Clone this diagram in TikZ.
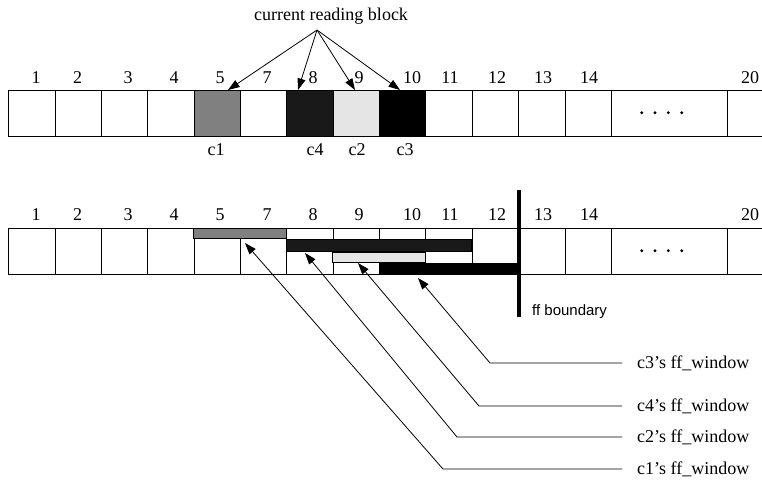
\documentclass[tikz,border=0pt]{standalone}
\usepackage{fontspec}
\setmainfont{Liberation Serif}
\setsansfont{Liberation Sans}
\usetikzlibrary{arrows.meta}
\definecolor{cone}{gray}{0.5}
\definecolor{cfour}{gray}{0.1}
\definecolor{ctwo}{gray}{0.9}
\tikzset{
  cell/.style={draw, line width=0.9pt, minimum width=46.35pt, minimum height=46pt,
               inner sep=0pt, anchor=north west},
  num/.style={font=\fontsize{18}{20}\selectfont, anchor=base, inner sep=0pt},
  lab/.style={font=\fontsize{18}{20}\selectfont, inner sep=0pt},
  bar/.style={draw, line width=0.8pt},
  ptr/.style={line width=0.8pt, -{Triangle[length=11.5pt,width=8pt]}},
}
\begin{document}
\begin{tikzpicture}[x=1pt,y=-1pt]
\useasboundingbox (0,0) rectangle (762,487);
\clip (0,0) rectangle (762,487);

% ---------- upper row: blocks being read ----------
\foreach \k/\lab/\col in {0/1/white,1/2/white,2/3/white,3/4/white,4/5/cone,
    5/7/white,6/8/cfour,7/9/ctwo,8/10/black,9/11/white,10/12/white,
    11/13/white,12/14/white}
  \node[cell, fill=\col] (top\lab) at ({8.3+46.35*\k},90) {};
\node[cell, minimum width=115.85pt] (topdots) at (610.85,90) {};
\node[cell] (top20) at (726.7,90) {};

\foreach \x/\lab in {36/1,77.5/2,128/3,174/4,220/5,267/7,313/8,359/9,
    412/10,450/11,497/12,543/13,589/14,750/20}
  \node[num] (ntop\lab) at (\x,83) {\lab};

\foreach \x/\c in {216/1,315/4,357/2,405/3}
  \node[num] (cname\c) at (\x,155) {c\c};

% ---------- lower row: fast-forward windows ----------
\foreach \k/\lab in {0/1,1/2,2/3,3/4,4/5,5/7,6/8,7/9,8/10,9/11,10/12,11/13,12/14}
  \node[cell] (bot\lab) at ({8.3+46.35*\k},228) {};
\node[cell, minimum width=115.85pt] (botdots) at (610.85,228) {};
\node[cell] (bot20) at (726.7,228) {};

\foreach \x/\lab in {36/1,77.5/2,128/3,174/4,220/5,267/7,313/8,359/9,
    412/10,450/11,497/12,543/13,589/14,750/20}
  \node[num] (nbot\lab) at (\x,220) {\lab};

% "...." in the gap cells
\foreach \x in {641.7,655,668.3,681.7} {
  \fill (\x,112.7) circle (1.6pt);
  \fill (\x,250.7) circle (1.6pt);
}

% window bars
\draw[bar, fill=cone]  (193.7,228) rectangle (286.4,238);
\draw[bar, fill=cfour] (286.4,239) rectangle (471.8,251);
\draw[bar, fill=ctwo]  (332.75,252) rectangle (425.45,262);
\draw[bar, fill=black] (379.1,263) rectangle (518.15,274);

% fast-forward boundary
\draw[line width=3.3pt] (519,190) -- (519,317);
\node[font=\sffamily\fontsize{15}{17}\selectfont, anchor=west, inner sep=0pt]
  (ffb) at (532,312) {ff boundary};

% ---------- pointer from the caption ----------
\node[lab, anchor=base] (title) at (331,21) {current reading block};
\coordinate (apex) at (317,30);
\coordinate (r1) at (228,90);
\coordinate (r4) at (298,90);
\coordinate (r2) at (355,90);
\coordinate (r3) at (400,90);
\foreach \c in {1,4,2,3}
  \draw[ptr] (apex) -- (r\c);

% ---------- window labels ----------
\foreach \c/\y/\kx/\hx/\hy in {3/363/490/418/278, 4/406/479/358/263,
    2/437/457/305/253, 1/469/443/245/243} {
  \node[lab, anchor=west] (w\c) at (637,\y) {c\c’s ff\_window};
  \coordinate (k\c) at (\kx,\y);
  \coordinate (h\c) at (\hx,\hy);
  \draw[ptr] ([xshift=-15pt]w\c.west) -- (k\c) -- (h\c);
}
\end{tikzpicture}
\end{document}
